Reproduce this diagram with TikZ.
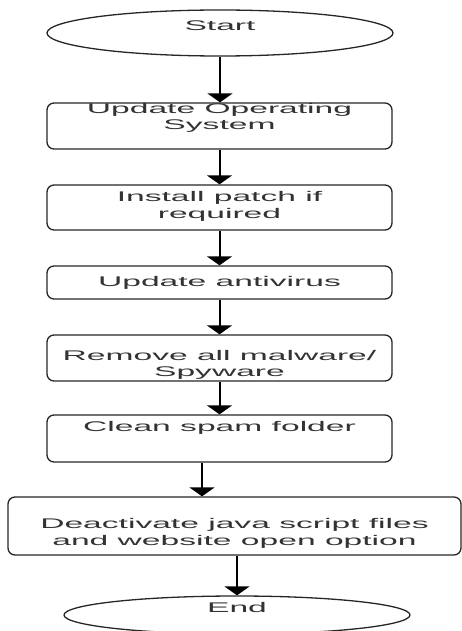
\documentclass[tikz,border=0pt]{standalone}
\usepackage{fontspec}
\newfontfamily\flowfont{Liberation Sans}[FakeStretch=2.4]
\usepackage{tikz}
\usetikzlibrary{positioning}
\usetikzlibrary{shapes.geometric}
\usetikzlibrary{arrows.meta}

\begin{document}
\begin{tikzpicture}[x=1pt,y=-1pt,>={Triangle[width=25pt,length=9pt]},
                    flow/.style={->,line width=2pt,draw=black},
                    proc node/.style={rectangle,rounded corners=7pt,draw=black!85,line width=1.3pt,minimum width=345pt,inner sep=0pt},
                    term node/.style={ellipse,draw=black!85,line width=1.3pt,minimum width=346pt,inner sep=0pt},
                    txt node/.style={font=\flowfont\fontsize{14}{16.5}\selectfont,text=black!80,align=center,inner sep=0pt}]
  \useasboundingbox (0,0) rectangle (462,631);

  % shapes
  \node[term node,minimum height=46pt] (start) at (220,33) {};
  \node[proc node,minimum height=46pt] (os) at (219.5,126) {};
  \node[proc node,minimum height=45pt] (patch) at (219.5,207.5) {};
  \node[proc node,minimum height=33pt] (av) at (219.5,282.5) {};
  \node[proc node,minimum height=46pt] (malware) at (219.5,358) {};
  \node[proc node,minimum height=47pt] (spam) at (219.5,438.5) {};
  \node[proc node,minimum height=58pt,minimum width=453pt] (java) at (234.5,526) {};
  \node[term node,minimum height=38pt] (end) at (237,615) {};

  % texts
  \node[txt node] (startT) at ([yshift=7.5pt]start.center) {Start};
  \node[txt node] (osT) at ([yshift=8pt]os.center) {Update Operating\\System};
  \node[txt node] (patchT) at ([yshift=1pt]patch.center) {Install patch if\\required};
  \node[txt node] (avT) at (av.center) {Update antivirus};
  \node[txt node] (malwareT) at ([yshift=-7pt]malware.center) {Remove all malware/\\Spyware};
  \node[txt node] (spamT) at ([yshift=10.5pt]spam.center) {Clean spam folder};
  \node[txt node] (javaT) at ([yshift=-7.5pt]java.center) {Deactivate java script files\\and website open option};
  \node[txt node] (endT) at ([yshift=8pt]end.center) {End};

  % arrows
  \draw[flow] (start.south) -- (start.south |- os.north);
  \draw[flow] (os.south) -- (patch.north);
  \draw[flow] (patch.south) -- (av.north);
  \draw[flow] (av.south) -- (malware.north);
  \draw[flow] (malware.south) -- (spam.north);
  \draw[flow] ([xshift=-17.5pt]spam.south) -- ([xshift=-17.5pt]spam.south |- java.north);
  \draw[flow] (java.south -| end.north) -- (end.north);
\end{tikzpicture}
\end{document}
